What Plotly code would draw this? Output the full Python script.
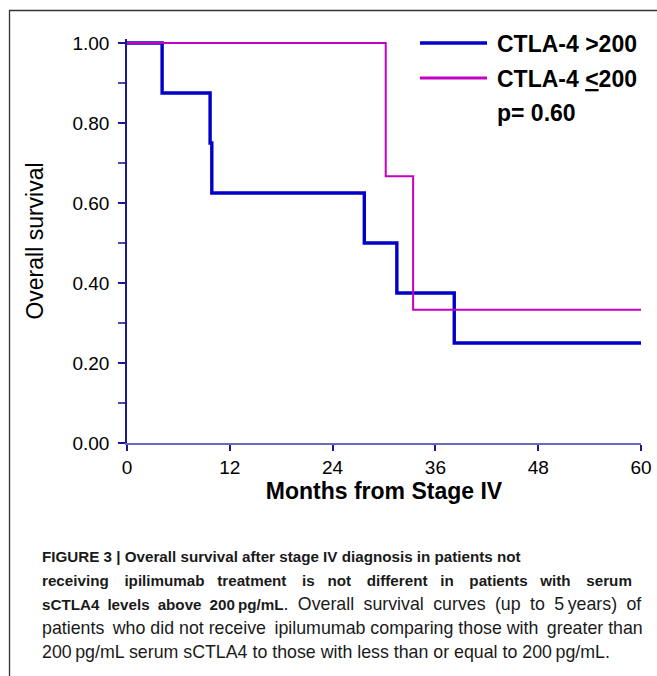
import plotly.graph_objects as go

# Kaplan-Meier step data (months, survival)
high_months = [0, 4.1, 9.7, 9.9, 27.7, 31.5, 38.2, 60]
high_surv = [1.0, 0.875, 0.75, 0.625, 0.5, 0.375, 0.25, 0.25]
low_months = [0, 30.2, 33.4, 60]
low_surv = [1.0, 0.667, 0.333, 0.333]

x_ticks = [0, 12, 24, 36, 48, 60]
y_ticks = [0.0, 0.2, 0.4, 0.6, 0.8, 1.0]

series_names = ["CTLA-4 &gt;200", "CTLA-4 <u>&lt;</u>200"]
p_text = "p= 0.60"

NB = "\u00a0"
THIN = "\u2009"
caption_lines = [
    "FIGURE 3 | Overall survival after stage IV diagnosis in patients not",
    "receiving ipilimumab treatment is not different in patients with serum",
    "sCTLA4 levels above 200\u2009pg/mL",
    ". Overall survival curves (up to 5\u2009years) of",
    "patients who did not receive ipilumumab comparing those with greater than",
    "200\u2009pg/mL serum sCTLA4 to those with less than or equal to 200\u2009pg/mL.",
]

BLUE = "#0000C8"
MAG = "#C400C4"

W, H = 657, 676
L, R, T, B = 127, 16, 39, 233
PW = W - L - R
PH = H - T - B


def px(xp):
    return (xp - L) / PW


def py(yp):
    return (H - B - yp) / PH


def widen(s, extra, every=1, extra2="", every2=0):
    # emulate justified text: pad inter-word gaps
    parts = s.split(" ")
    out = parts[0]
    for i, p in enumerate(parts[1:]):
        gap = " "
        if every and i % every == 0:
            gap += extra
        if every2 and i % every2 == 0:
            gap += extra2
        out += gap + p
    return out


fig = go.Figure()
fig.add_trace(go.Scatter(x=high_months, y=high_surv, mode="lines", line_shape="hv",
                         line=dict(color=BLUE, width=3.4), showlegend=False))
fig.add_trace(go.Scatter(x=low_months, y=low_surv, mode="lines", line_shape="hv",
                         line=dict(color=MAG, width=2), showlegend=False))

FAM = "Liberation Sans, Arial, sans-serif"
axis_font = dict(family=FAM, size=19, color="black")

fig.update_xaxes(range=[0, 60], tickvals=x_ticks, ticktext=[str(v) for v in x_ticks],
                 automargin=False,
                 showgrid=False, zeroline=False, showline=True, linecolor="#6b6bbb",
                 linewidth=2, ticks="outside", ticklen=6, tickcolor="#1a1a8c", tickwidth=1.5,
                 tickfont=axis_font, ticklabelstandoff=0,
                 title=dict(text="<b>Months from Stage IV</b>", standoff=2,
                            font=dict(family=FAM, size=23, color="black")))
fig.update_yaxes(range=[0, 1.01], tickvals=y_ticks, tickformat=".2f",
                 automargin=False,
                 showgrid=False, zeroline=False, showline=True, linecolor="#1a1a8c",
                 linewidth=1.5, ticks="outside", ticklen=7, tickcolor="#1a1a8c", tickwidth=1.5,
                 minor=dict(dtick=0.1, ticks="outside", ticklen=7, tickcolor="#4a4aa8", tickwidth=1.5),
                 tickfont=axis_font, ticklabelstandoff=5,
                 title=dict(text="Overall survival", standoff=22,
                            font=dict(family=FAM, size=23, color="black")))

shapes = []
# figure frame
shapes.append(dict(type="rect", xref="paper", yref="paper",
                   x0=px(9.5), x1=px(670), y0=py(690), y1=py(10.5),
                   line=dict(color="#333333", width=1.3), fillcolor="rgba(0,0,0,0)", layer="below"))
# legend lines
for yy, col, wd in [(43, BLUE, 3.4), (78, MAG, 3.0)]:
    shapes.append(dict(type="line", xref="paper", yref="paper",
                       x0=px(420), x1=px(487), y0=py(yy), y1=py(yy),
                       line=dict(color=col, width=wd)))

annotations = []
leg_font = dict(family=FAM, size=23, color="black")
for i, (name, yy) in enumerate(zip(series_names + [p_text], [44, 79, 113])):
    annotations.append(dict(text="<b>" + name + "</b>", xref="paper", yref="paper",
                            x=px(495), y=py(yy), xanchor="left", yanchor="middle",
                            showarrow=False, font=leg_font))

BOLD_STYLE = '<span style="font-size:15.2px;font-weight:bold">'
cap_texts = [
    BOLD_STYLE + caption_lines[0] + "</span>",
    BOLD_STYLE + widen(caption_lines[1], NB + NB + THIN, 2, NB + NB, 2 * 0 + 1).replace(NB + NB + THIN + NB + NB, NB + NB + THIN) + "</span>",
    BOLD_STYLE + widen(caption_lines[2], "\u2005") + "</span>" + widen(caption_lines[3], "\u2005"),
    widen(caption_lines[4], THIN, 4),
    caption_lines[5],
]
cap_font = dict(family=FAM, size=17.8, color="#1a1a1a")
for i, line in enumerate(cap_texts):
    annotations.append(dict(text=line, xref="paper", yref="paper",
                            x=px(40), y=py(556 + 24 * i), xanchor="left", yanchor="middle",
                            showarrow=False, font=cap_font))

fig.update_layout(width=W, height=H, autosize=False, margin=dict(l=L, r=R, t=T, b=B),
                  paper_bgcolor="white", plot_bgcolor="white",
                  shapes=shapes, annotations=annotations, showlegend=False)

fig.write_html("out.html", config={"displayModeBar": False, "responsive": False},
               post_script="document.body.style.margin='0px';document.body.style.overflow='hidden';")
